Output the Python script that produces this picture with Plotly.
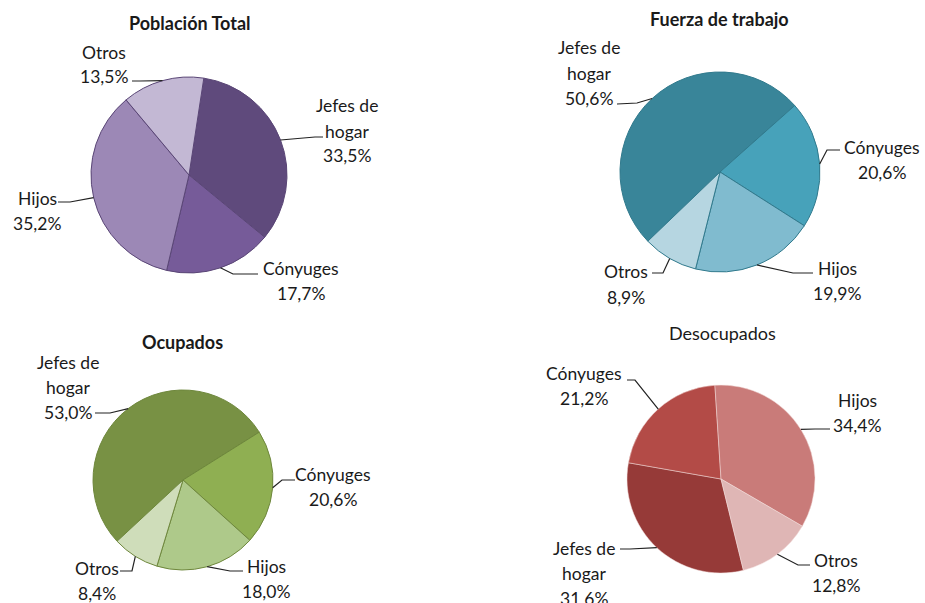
import math
import plotly.graph_objects as go

W, H = 925, 603

# ---------------- data ----------------
categories = ["Jefes de hogar", "Cónyuges", "Hijos", "Otros"]
titles = ["Población Total", "Fuerza de trabajo", "Ocupados", "Desocupados"]
poblacion_total = [33.5, 17.7, 35.2, 13.5]
fuerza_trabajo = [50.6, 20.6, 19.9, 8.9]
ocupados = [53.0, 20.6, 18.0, 8.4]
desocupados = [31.6, 21.2, 34.4, 12.8]
series = [poblacion_total, fuerza_trabajo, ocupados, desocupados]

label_lines = {"Jefes de hogar": ["Jefes de", "hogar"], "Cónyuges": ["Cónyuges"],
               "Hijos": ["Hijos"], "Otros": ["Otros"]}

# ---------------- styling / layout ----------------
FONT = "Lato, 'Open Sans', sans-serif"
TXT = "#1a1a1a"
LINE_GAP = 25

pies = [
    dict(c=(189, 175), r=98, rot=8.7,
         colors=["#5F4A7C", "#765B99", "#9C88B6", "#C3B8D4"], border="#5A4676", bw=1,
         title=(190, 23), bold=True,
         labels=[((347, 106), [(315, 137), (323, 137)]),
                 ((301, 268), [(233, 274), (258, 274)]),
                 ((37, 198), [(70, 202), (58, 202)]),
                 ((104, 52), [(140, 81), (132, 81)])]),
    dict(c=(720, 172), r=100, rot=226.2,
         colors=["#398599", "#47A2BA", "#80BBCF", "#B6D6E1"], border="#317A8D", bw=1,
         title=(719, 19), bold=True,
         labels=[((589, 48), [(637, 103), (617, 104)]),
                 ((882, 147), [(827, 150), (840, 150)]),
                 ((837, 268), [(793, 273), (813, 273)]),
                 ((626, 272), [(663, 273), (652, 273)])]),
    dict(c=(183, 480), r=90, rot=227.1,
         colors=["#789144", "#8FAF52", "#AEC98A", "#CFDDBA"], border="#6E873C", bw=1,
         title=(182, 342), bold=True,
         labels=[((68, 362), [(110, 413), (95, 413)]),
                 ((333, 474), [(282, 480), (295, 480)]),
                 ((266, 566), [(230, 571), (243, 571)]),
                 ((97, 568), [(132, 571), (120, 571)])]),
    dict(c=(721, 479), r=94, rot=166.2,
         colors=["#963A38", "#B34B47", "#C97B79", "#DFB6B5"], border="#F2DCDB", bw=0.5,
         title=(722, 333), bold=False,
         labels=[((584, 548), [(630, 549), (620, 549)]),
                 ((584, 373), [(635, 380), (627, 380)]),
                 ((857, 400), [(815, 429), (830, 429)]),
                 ((836, 560), [(798, 565), (810, 565)])]),
]


def px(x):
    return x / W


def py(y):
    return 1 - y / H


def fmt(v):
    return f"{v:.1f}".replace(".", ",") + "%"


fig = go.Figure()
annotations = []
shapes = []

for vals, title, p in zip(series, titles, pies):
    cx, cy = p["c"]
    r = p["r"]
    rot = ((p["rot"] + 180) % 360) - 180
    fig.add_trace(go.Pie(
        labels=categories, values=vals, sort=False, direction="clockwise",
        rotation=rot, textinfo="none", showlegend=False,
        marker=dict(colors=p["colors"], line=dict(color=p["border"], width=p["bw"])),
        domain=dict(x=[px(cx - r), px(cx + r)], y=[py(cy + r), py(cy - r)]),
        hovertemplate="%{label}: %{value:.1f}%<extra></extra>",
    ))
    tx, ty = p["title"]
    ttxt = f"<b>{title}</b>" if p["bold"] else title
    annotations.append(dict(x=px(tx), y=py(ty), xref="paper", yref="paper", text=ttxt,
                            showarrow=False, xanchor="center", yanchor="middle",
                            font=dict(family=FONT, size=18, color=TXT)))
    total = sum(vals)
    cum = 0.0
    for cat, v, (tpos, pts) in zip(categories, vals, p["labels"]):
        mid = math.radians(p["rot"] + (cum + v / 2) / total * 360)
        cum += v
        ex, ey = cx + r * math.sin(mid), cy - r * math.cos(mid)
        lines = label_lines[cat] + [fmt(v)]
        lx, ly = tpos
        for i, ln in enumerate(lines):
            annotations.append(dict(x=px(lx), y=py(ly + i * LINE_GAP), xref="paper", yref="paper",
                                    text=ln, showarrow=False, xanchor="center", yanchor="middle",
                                    font=dict(family=FONT, size=17.5, color=TXT)))
        path = f"M {px(ex)},{py(ey)}"
        for (qx, qy) in pts:
            path += f" L {px(qx)},{py(qy)}"
        shapes.append(dict(type="path", xref="paper", yref="paper", path=path,
                           line=dict(color="#222222", width=1.2)))

fig.update_layout(
    width=W, height=H, margin=dict(l=0, r=0, t=0, b=0),
    paper_bgcolor="white", plot_bgcolor="white",
    annotations=annotations, shapes=shapes,
    font=dict(family=FONT, color=TXT),
)

fig.write_html("out.html", config={"displayModeBar": False},
               post_script="document.body.style.margin='0px';document.body.style.overflow='hidden';")
